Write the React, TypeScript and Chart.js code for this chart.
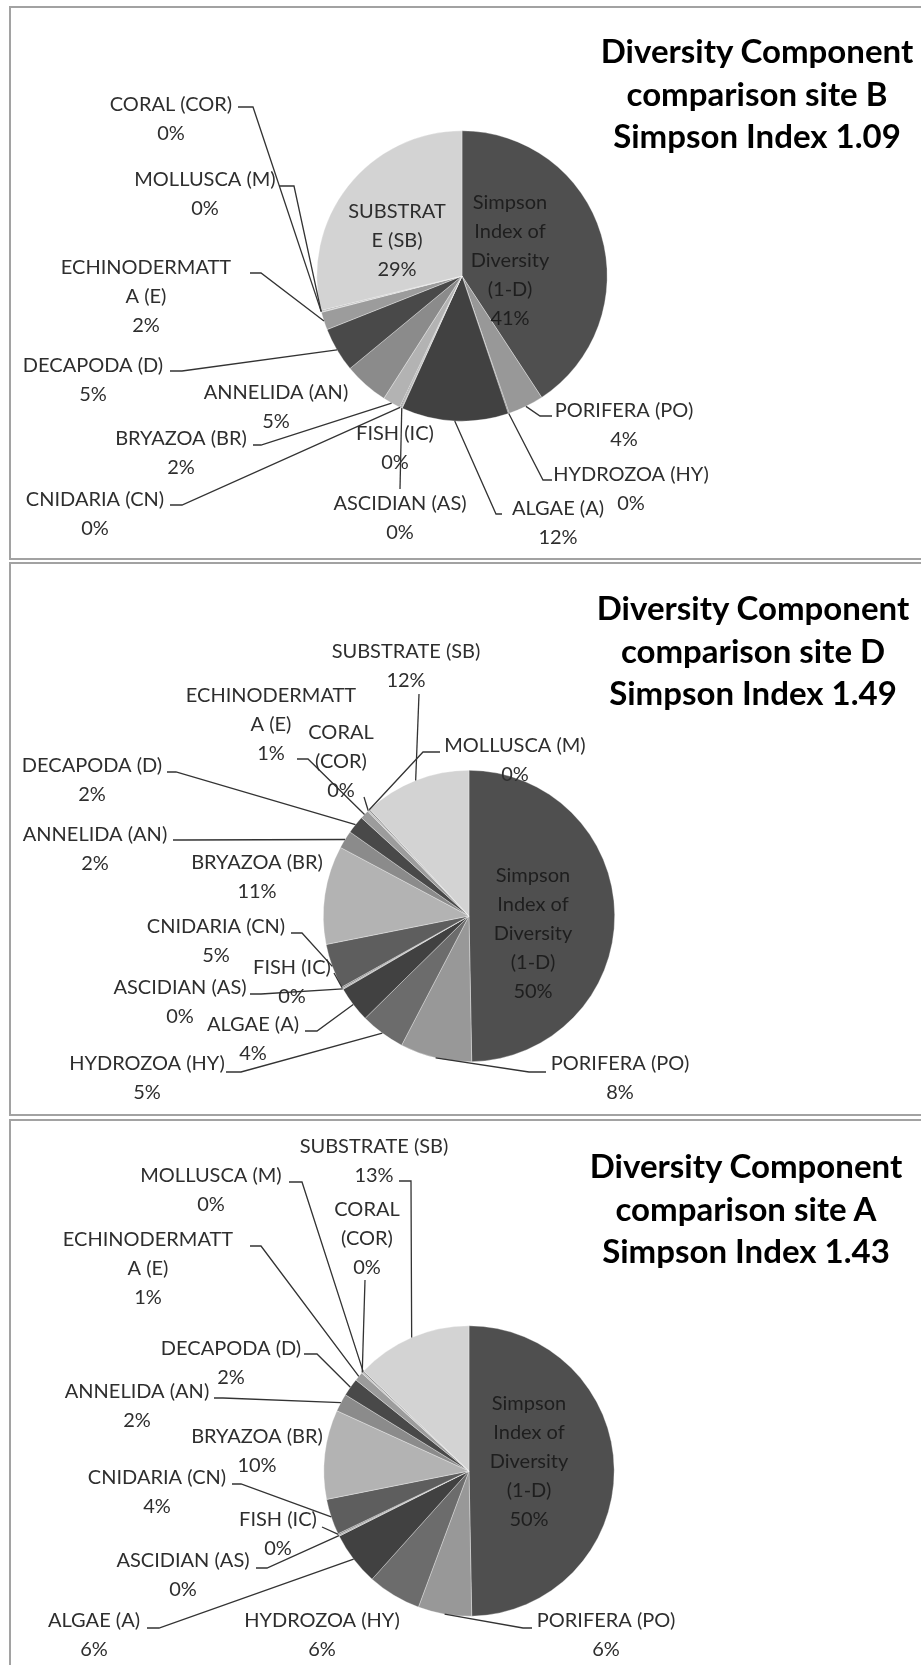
import React, { useEffect, useRef } from "react";
import { Chart, registerables } from "chart.js";

Chart.register(...registerables);

// ---------------- DATA ----------------
const categories = [
  "Simpson Index of Diversity (1-D)",
  "PORIFERA (PO)",
  "HYDROZOA (HY)",
  "ALGAE (A)",
  "ASCIDIAN (AS)",
  "FISH (IC)",
  "CNIDARIA (CN)",
  "BRYAZOA (BR)",
  "ANNELIDA (AN)",
  "DECAPODA (D)",
  "ECHINODERMATTA (E)",
  "CORAL (COR)",
  "MOLLUSCA (M)",
  "SUBSTRATE (SB)",
];

// percentage shares per site (0% entries are tiny slivers)
const siteBValues = [41, 4, 0.1, 12, 0.1, 0.1, 0.1, 2, 5, 5, 2, 0.1, 0.1, 29];
const siteDValues = [50, 8, 5, 4, 0.15, 0.15, 5, 11, 2, 2, 1, 0.15, 0.15, 12];
const siteAValues = [50, 6, 6, 6, 0.15, 0.15, 4, 10, 2, 2, 1, 0.15, 0.15, 13];

const siteBTitle = ["Diversity Component", "comparison site B", "Simpson Index 1.09"];
const siteDTitle = ["Diversity Component", "comparison site D", "Simpson Index 1.49"];
const siteATitle = ["Diversity Component", "comparison site A", "Simpson Index 1.43"];

// ---------------- STYLES / LAYOUT ----------------
const sliceColors = [
  "#4f4f4f", "#989898", "#6c6c6c", "#414141", "#a8a8a8", "#7a7a7a", "#5e5e5e",
  "#b3b3b3", "#8b8b8b", "#494949", "#9c9c9c", "#bdbdbd", "#858585", "#d3d3d3",
];

const FONT = "Lato, 'Open Sans', sans-serif";
const LABEL_SIZE = 20;
const LINE_H = 28.8;
const PAGE_W = 921;

type Lbl = { x: number; y: number; split?: number[]; lead?: [number, number][] };
const SIMPSON_SPLIT = [7, 16, 26];

const layoutB: Lbl[] = [
  { x: 510, y: 203, split: SIMPSON_SPLIT },
  { x: 624, y: 411, lead: [[552, 416], [540, 416]] },
  { x: 631, y: 475, lead: [[552, 480], [543, 480]] },
  { x: 558, y: 509, lead: [[502, 514], [496, 514]] },
  { x: 400, y: 504, lead: [[400, 489]] },
  { x: 395, y: 434 },
  { x: 95, y: 500, lead: [[170, 505], [182, 505]] },
  { x: 181, y: 439, lead: [[253, 445], [261, 445]] },
  { x: 276, y: 393 },
  { x: 93, y: 366, lead: [[170, 371], [182, 371]] },
  { x: 146, y: 268, split: [13], lead: [[250, 273], [261, 273]] },
  { x: 171, y: 105, lead: [[238, 107], [253, 107]] },
  { x: 205, y: 180, lead: [[279, 186], [294, 186]] },
  { x: 397, y: 212, split: [8] },
];

const layoutD: Lbl[] = [
  { x: 533, y: 876, split: SIMPSON_SPLIT },
  { x: 620, y: 1064, lead: [[546, 1072], [529, 1072]] },
  { x: 147, y: 1064, lead: [[226, 1072], [241, 1072]] },
  { x: 253, y: 1025, lead: [[305, 1031], [317, 1031]] },
  { x: 180, y: 988, lead: [[250, 994], [261, 994]] },
  { x: 292, y: 968, lead: [[334, 973]] },
  { x: 216, y: 927, lead: [[291, 933], [302, 933]] },
  { x: 257, y: 863 },
  { x: 95, y: 835, lead: [[173, 840], [182, 840]] },
  { x: 92, y: 766, lead: [[167, 772], [176, 772]] },
  { x: 271, y: 696, split: [13], lead: [[297, 759], [308, 759]] },
  { x: 341, y: 733, split: [5], lead: [[364, 797]] },
  { x: 515, y: 746, lead: [[440, 752], [423, 752]] },
  { x: 406, y: 652, lead: [[419, 694]] },
];

const layoutA: Lbl[] = [
  { x: 529, y: 1404, split: SIMPSON_SPLIT },
  { x: 606, y: 1621, lead: [[532, 1628], [523, 1628]] },
  { x: 322, y: 1621 },
  { x: 94, y: 1621, lead: [[147, 1628], [159, 1628]] },
  { x: 183, y: 1561, lead: [[256, 1568], [267, 1568]] },
  { x: 278, y: 1520, lead: [[322, 1527]] },
  { x: 157, y: 1478, lead: [[232, 1484], [241, 1484]] },
  { x: 257, y: 1437 },
  { x: 137, y: 1392, lead: [[214, 1398], [223, 1398]] },
  { x: 231, y: 1349, lead: [[304, 1354], [317, 1354]] },
  { x: 148, y: 1240, split: [13], lead: [[250, 1246], [261, 1246]] },
  { x: 367, y: 1210, split: [5], lead: [[365, 1280]] },
  { x: 211, y: 1176, lead: [[289, 1182], [302, 1182]] },
  { x: 374, y: 1147, lead: [[399, 1181], [411, 1181]] },
];

type PanelCfg = {
  top: number;
  height: number;
  values: number[];
  title: string[];
  titleX: number;
  titleY: number;
  cx: number;
  cy: number;
  r: number;
  layout: Lbl[];
};

const panels: PanelCfg[] = [
  { top: 6, height: 554, values: siteBValues, title: siteBTitle, titleX: 757, titleY: 93, cx: 462, cy: 276, r: 145.5, layout: layoutB },
  { top: 562, height: 554, values: siteDValues, title: siteDTitle, titleX: 753, titleY: 650, cx: 469, cy: 916, r: 146, layout: layoutD },
  { top: 1119, height: 560, values: siteAValues, title: siteATitle, titleX: 746, titleY: 1208, cx: 469, cy: 1471, r: 145.5, layout: layoutA },
];

function splitText(t: string, split?: number[]): string[] {
  if (!split) return [t];
  const out: string[] = [];
  let prev = 0;
  for (const s of split) {
    out.push(t.slice(prev, s).trim());
    prev = s;
  }
  out.push(t.slice(prev).trim());
  return out;
}

function PiePanel({ cfg }: { cfg: PanelCfg }) {
  const ref = useRef<HTMLCanvasElement | null>(null);
  useEffect(() => {
    if (!ref.current) return;
    const H = cfg.height;
    const localCy = cfg.cy - cfg.top;
    const labelPlugin = {
      id: "calloutLabels",
      afterDraw(chart: any) {
        const ctx = chart.ctx as CanvasRenderingContext2D;
        const meta = chart.getDatasetMeta(0);
        const data = chart.data.datasets[0].data as number[];
        const total = data.reduce((a, b) => a + b, 0);
        ctx.save();
        // leader lines
        ctx.strokeStyle = "#333333";
        ctx.lineWidth = 1.3;
        cfg.layout.forEach((lb, i) => {
          if (!lb.lead) return;
          const arc = meta.data[i] as any;
          const p = arc.getProps(["x", "y", "startAngle", "endAngle", "outerRadius"], true);
          const mid = (p.startAngle + p.endAngle) / 2;
          const ex = p.x + Math.cos(mid) * p.outerRadius;
          const ey = p.y + Math.sin(mid) * p.outerRadius;
          ctx.beginPath();
          lb.lead.forEach(([x, y], k) => {
            if (k === 0) ctx.moveTo(x, y - cfg.top);
            else ctx.lineTo(x, y - cfg.top);
          });
          ctx.lineTo(ex, ey);
          ctx.stroke();
        });
        // text
        ctx.font = `${LABEL_SIZE}px ${FONT}`;
        ctx.textAlign = "center";
        ctx.textBaseline = "middle";
        cfg.layout.forEach((lb, i) => {
          const lines = splitText(categories[i], lb.split);
          lines.push(Math.round((data[i] / total) * 100) + "%");
          ctx.fillStyle = i === 0 ? "#1e1e1e" : "#2e2e2e";
          lines.forEach((ln, k) => {
            ctx.fillText(ln, lb.x, lb.y - cfg.top + k * LINE_H);
          });
        });
        ctx.restore();
      },
    };
    const chart = new Chart(ref.current, {
      type: "pie",
      data: {
        labels: categories,
        datasets: [
          {
            data: cfg.values,
            backgroundColor: sliceColors,
            borderColor: "rgba(255,255,255,0.55)",
            borderWidth: 0.6,
          },
        ],
      },
      options: {
        responsive: false,
        animation: false,
        layout: {
          padding: {
            left: cfg.cx - cfg.r,
            right: PAGE_W - cfg.cx - cfg.r,
            top: localCy - cfg.r,
            bottom: H - localCy - cfg.r,
          },
        },
        plugins: {
          legend: { display: false },
          tooltip: { enabled: false },
          title: { display: false },
        },
      },
      plugins: [labelPlugin],
    } as any);
    return () => chart.destroy();
  }, [cfg]);

  return (
    <>
      <div
        style={{
          position: "absolute",
          left: 9,
          top: cfg.top,
          width: 960,
          height: cfg.height,
          boxSizing: "border-box",
          border: "2px solid #a2a2a2",
          background: "#ffffff",
        }}
      />
      <canvas
        ref={ref}
        width={PAGE_W}
        height={cfg.height}
        style={{ position: "absolute", left: 0, top: cfg.top, width: PAGE_W, height: cfg.height }}
      />
      <div
        style={{
          position: "absolute",
          left: cfg.titleX - 200,
          top: cfg.titleY - 1.5 * 42.5,
          width: 400,
          textAlign: "center",
          fontFamily: FONT,
          fontWeight: 700,
          fontSize: 33,
          lineHeight: "42.5px",
          color: "#000",
          whiteSpace: "nowrap",
        }}
      >
        {cfg.title.map((t, i) => (
          <div key={i}>{t}</div>
        ))}
      </div>
    </>
  );
}

export default function App() {
  return (
    <div
      style={{
        position: "absolute",
        left: 0,
        top: 0,
        width: PAGE_W,
        height: 1665,
        overflow: "hidden",
        background: "#fff",
      }}
    >
      {panels.map((p, i) => (
        <PiePanel key={i} cfg={p} />
      ))}
    </div>
  );
}
